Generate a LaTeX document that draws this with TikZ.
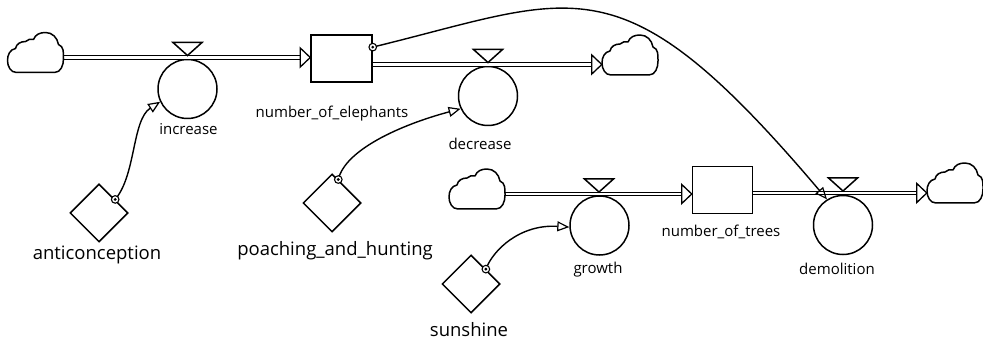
\documentclass[tikz,border=0pt]{standalone}
\usepackage{fontspec}
\setmainfont{Open Sans}
\usetikzlibrary{arrows.meta,shapes.geometric,calc}
\begin{document}
\begin{tikzpicture}[x=1pt,y=1pt,
  stockbox/.style={draw, line width=1.5pt, rectangle, inner sep=0pt},
  valve/.style={draw, line width=1.5pt, circle, inner sep=0pt, minimum size=59pt},
  auxbox/.style={draw, line width=1.5pt, diamond, inner sep=0pt, minimum width=58pt, minimum height=58pt},
  cloudspot/.style={inner sep=0pt, minimum width=56pt, minimum height=40pt},
  pipe/.style={draw=black, line width=1.2pt, double=white, double distance=2.2pt},
  link/.style={line width=1.4pt, -{Triangle[open, length=12pt, width=10pt, line width=1.2pt]}},
  lblsmall/.style={font=\fontsize{15}{15}\selectfont, inner sep=0pt, anchor=base},
  lblbig/.style={font=\fontsize{18.5}{18.5}\selectfont, inner sep=0pt, anchor=base},
  cloudpic/.pic={\draw[line width=1.5pt, fill=white, line join=round]
      (-19,-20) -- (19,-20) to[out=0,in=-90] (28,-6) to[out=90,in=-20] (23,8)
      to[out=100,in=0] (10,20) to[out=180,in=70] (-2,13)
      to[out=150,in=30] (-10,11) to[out=180,in=80] (-20,4)
      to[out=-170,in=90] (-28,-8) to[out=-90,in=180] cycle;},
  flowtip/.pic={\draw[line width=1.3pt, fill=white, line join=miter] (0,0) -- (-10,9.5) -- (-10,-9.5) -- cycle;},
  valvetri/.pic={\draw[line width=1.5pt, fill=white] (0,2) -- (-14.5,15) -- (14.5,15) -- cycle;},
  srcdot/.pic={\draw[line width=1.1pt, fill=white] (0,0) circle (3.8); \fill (0,0) circle (1.6);}
]
\useasboundingbox (0,0) rectangle (983,-339);
\fill[white] (0,0) rectangle (983,-339);

% stocks
\node[stockbox, minimum width=61pt, minimum height=47pt] (stockE) at (341.5,-58.5) {};
\node[stockbox, minimum width=60pt, minimum height=47pt] (stockT) at (722.5,-190) {};
% clouds
\node[cloudspot] (cA) at (35.5,-52.5) {};
\node[cloudspot] (cB) at (630,-55) {};
\node[cloudspot] (cC) at (477,-189) {};
\node[cloudspot] (cD) at (955,-183) {};
% valve points on pipes
\coordinate (incv) at (187.5,-57.5);
\coordinate (decv) at (488,-64.5);
\coordinate (grov) at (599,-194);
\coordinate (demv) at (843,-193);
% converters
\node[valve] (inc) at (187.5,-89) {};
\node[valve] (dec) at (488,-96) {};
\node[valve] (gro) at (599.5,-225.5) {};
\node[valve] (dem) at (843,-225) {};
% auxiliaries
\node[auxbox] (anti) at (99,-213) {};
\node[auxbox] (poach) at (332,-203) {};
\node[auxbox] (sun) at (471,-284) {};

% pipes
\draw[pipe] (cA.east |- incv) -- ($(stockE.west |- incv)+(-9,0)$);
\draw[pipe] (stockE.east |- decv) -- ($(cB.west |- decv)+(-9,0)$);
\draw[pipe] (cC.east |- grov) -- ($(stockT.west |- grov)+(-9,0)$);
\draw[pipe] (stockT.east |- demv) -- ($(cD.west |- demv)+(-9,0)$);

% clouds
\pic at (cA) {cloudpic};
\pic at (cB) {cloudpic};
\pic at (cC) {cloudpic};
\pic at (cD) {cloudpic};

% flow heads
\pic at (stockE.west |- incv) {flowtip};
\pic at (cB.west |- decv) {flowtip};
\pic at (stockT.west |- grov) {flowtip};
\pic at (cD.west |- demv) {flowtip};

% valve triangles
\pic at (incv) {valvetri};
\pic at (decv) {valvetri};
\pic at (grov) {valvetri};
\pic at (demv) {valvetri};

% links
\draw[link] (anti.40) .. controls (136,-175) and (132,-120) .. (inc.205);
\draw[link] (poach.75) .. controls (345,-150) and (400,-125) .. (dec.205);
\draw[link] (sun.45) .. controls (493,-250) and (520,-224) .. (gro.183);
\draw[link] (stockE.20) .. controls (578,3) and (620,45) .. (dem.122);
\pic at (anti.40) {srcdot};
\pic at (poach.75) {srcdot};
\pic at (sun.45) {srcdot};
\pic at (stockE.20) {srcdot};

% labels
\node[lblsmall] (lInc) at (188.5,-135) {increase};
\node[lblsmall] (lDec) at (480,-150) {decrease};
\node[lblsmall] (lEle) at (332,-118) {number\_of\_elephants};
\node[lblsmall] (lGro) at (598,-273) {growth};
\node[lblsmall] (lTre) at (721,-237) {number\_of\_trees};
\node[lblsmall] (lDem) at (837,-275) {demolition};
\node[lblbig] (lAnt) at (97,-260) {anticonception};
\node[lblbig] (lPoa) at (335,-256) {poaching\_and\_hunting};
\node[lblbig] (lSun) at (469,-336) {sunshine};
\end{tikzpicture}
\end{document}
